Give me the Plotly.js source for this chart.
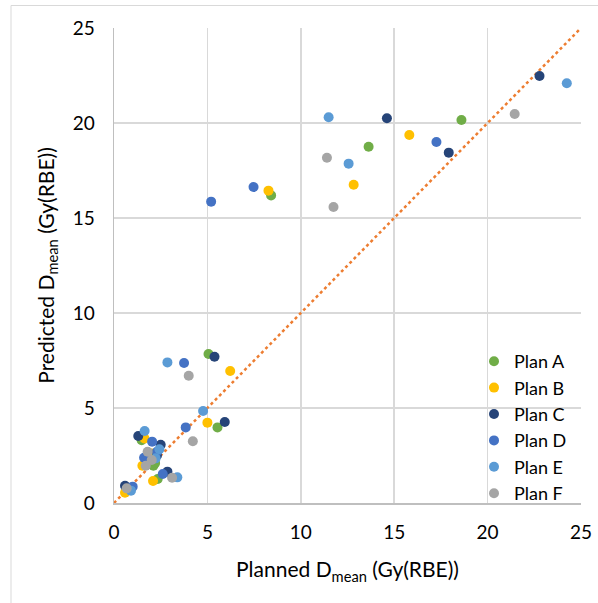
<!DOCTYPE html>
<html>
<head>
<meta charset="utf-8">
<script src="https://cdn.plot.ly/plotly-3.0.1.min.js"></script>
<style>html,body{margin:0;padding:0;background:#fff;}#chart{width:598px;height:603px;}</style>
</head>
<body>
<div id="chart"></div>
<script>
// Planned (x) and predicted (y) mean dose per plan, Gy(RBE)
const planNames = ["Plan A", "Plan B", "Plan C", "Plan D", "Plan E", "Plan F"];
const planAx = [8.41, 13.63, 18.60, 5.06, 5.54, 1.48, 2.11, 2.34, 2.20, 0.70];
const planAy = [16.19, 18.75, 20.16, 7.84, 3.98, 3.30, 1.96, 1.26, 2.10, 0.70];
const planBx = [8.27, 12.83, 15.81, 6.22, 5.00, 1.63, 1.52, 2.09, 0.59, 2.00];
const planBy = [16.44, 16.75, 19.37, 6.95, 4.23, 3.40, 1.96, 1.16, 0.54, 2.60];
const planCx = [14.61, 22.78, 17.92, 5.38, 5.93, 1.30, 2.50, 2.86, 0.59, 2.30];
const planCy = [20.25, 22.47, 18.44, 7.70, 4.26, 3.53, 3.07, 1.65, 0.91, 2.50];
const planDx = [5.20, 7.47, 17.26, 3.75, 3.84, 2.04, 1.61, 2.61, 1.00, 2.30];
const planDy = [15.86, 16.63, 19.00, 7.37, 3.98, 3.23, 2.38, 1.53, 0.86, 2.70];
const planEx = [11.49, 12.56, 24.24, 2.86, 4.77, 1.64, 2.43, 2.23, 3.39, 0.91];
const planEy = [20.30, 17.86, 22.09, 7.40, 4.84, 3.79, 2.83, 2.35, 1.35, 0.65];
const planFx = [11.40, 11.75, 21.45, 4.00, 4.22, 1.80, 2.02, 1.70, 3.11, 0.68];
const planFy = [18.17, 15.58, 20.47, 6.70, 3.25, 2.70, 2.26, 1.96, 1.33, 0.77];
const identityX = [0, 25];
const identityY = [0, 25];
const tickVals = [0, 5, 10, 15, 20, 25];
const tickText = ["0", "5", "10", "15", "20", "25"];

const planColors = ["#70AD47", "#FFC000", "#264478", "#4472C4", "#5B9BD5", "#A5A5A5"];
const xs = [planAx, planBx, planCx, planDx, planEx, planFx];
const ys = [planAy, planBy, planCy, planDy, planEy, planFy];

const font = "Lato, 'Open Sans', sans-serif";
const traces = [{
  x: identityX, y: identityY, mode: "lines", showlegend: false, hoverinfo: "skip",
  line: {color: "#ED7D31", width: 2.5, dash: "dot"}
}];
planNames.forEach((n, i) => {
  traces.push({
    x: xs[i], y: ys[i], name: n, type: "scatter", mode: "markers",
    marker: {color: planColors[i], size: 10}
  });
});

const px2x = p => (p - 114) / 467;
const px2y = p => (503 - p) / 475;

const layout = {
  width: 598, height: 603,
  margin: {l: 114, r: 17, t: 28, b: 100},
  paper_bgcolor: "#fff", plot_bgcolor: "#fff",
  font: {family: font, color: "#000", size: 19},
  showlegend: true,
  legend: {
    x: px2x(474), y: px2y(512), xanchor: "left", yanchor: "bottom",
    bgcolor: "rgba(0,0,0,0)", font: {family: font, size: 18, color: "#000"},
    traceorder: "normal"
  },
  xaxis: {
    range: [0, 25], tickvals: tickVals, ticktext: tickText,
    showgrid: true, gridcolor: "#D9D9D9", gridwidth: 1.5,
    zeroline: false, showline: true, linecolor: "#BFBFBF", linewidth: 1.5, mirror: false,
    ticks: "", ticklabelstandoff: 12, tickfont: {family: font, size: 19, color: "#000"},
    title: {text: "Planned D<sub>mean</sub> (Gy(RBE))", font: {family: font, size: 21, color: "#000"}, standoff: 20}
  },
  yaxis: {
    range: [0, 25], tickvals: tickVals, ticktext: tickText,
    showgrid: true, gridcolor: "#D9D9D9", gridwidth: 1.5,
    zeroline: false, showline: true, linecolor: "#BFBFBF", linewidth: 1.5,
    ticks: "", ticklabelstandoff: 14, tickfont: {family: font, size: 19, color: "#000"},
    title: {text: "Predicted D<sub>mean</sub> (Gy(RBE))", font: {family: font, size: 21, color: "#000"}, standoff: 12}
  },
  shapes: [{
    type: "rect", xref: "paper", yref: "paper",
    x0: px2x(11), x1: px2x(610), y0: px2y(615), y1: px2y(5.5),
    line: {color: "#D9D9D9", width: 1}, fillcolor: "rgba(0,0,0,0)", layer: "below"
  }]
};

Plotly.newPlot("chart", traces, layout, {displayModeBar: false, staticPlot: true});
</script>
</body>
</html>
